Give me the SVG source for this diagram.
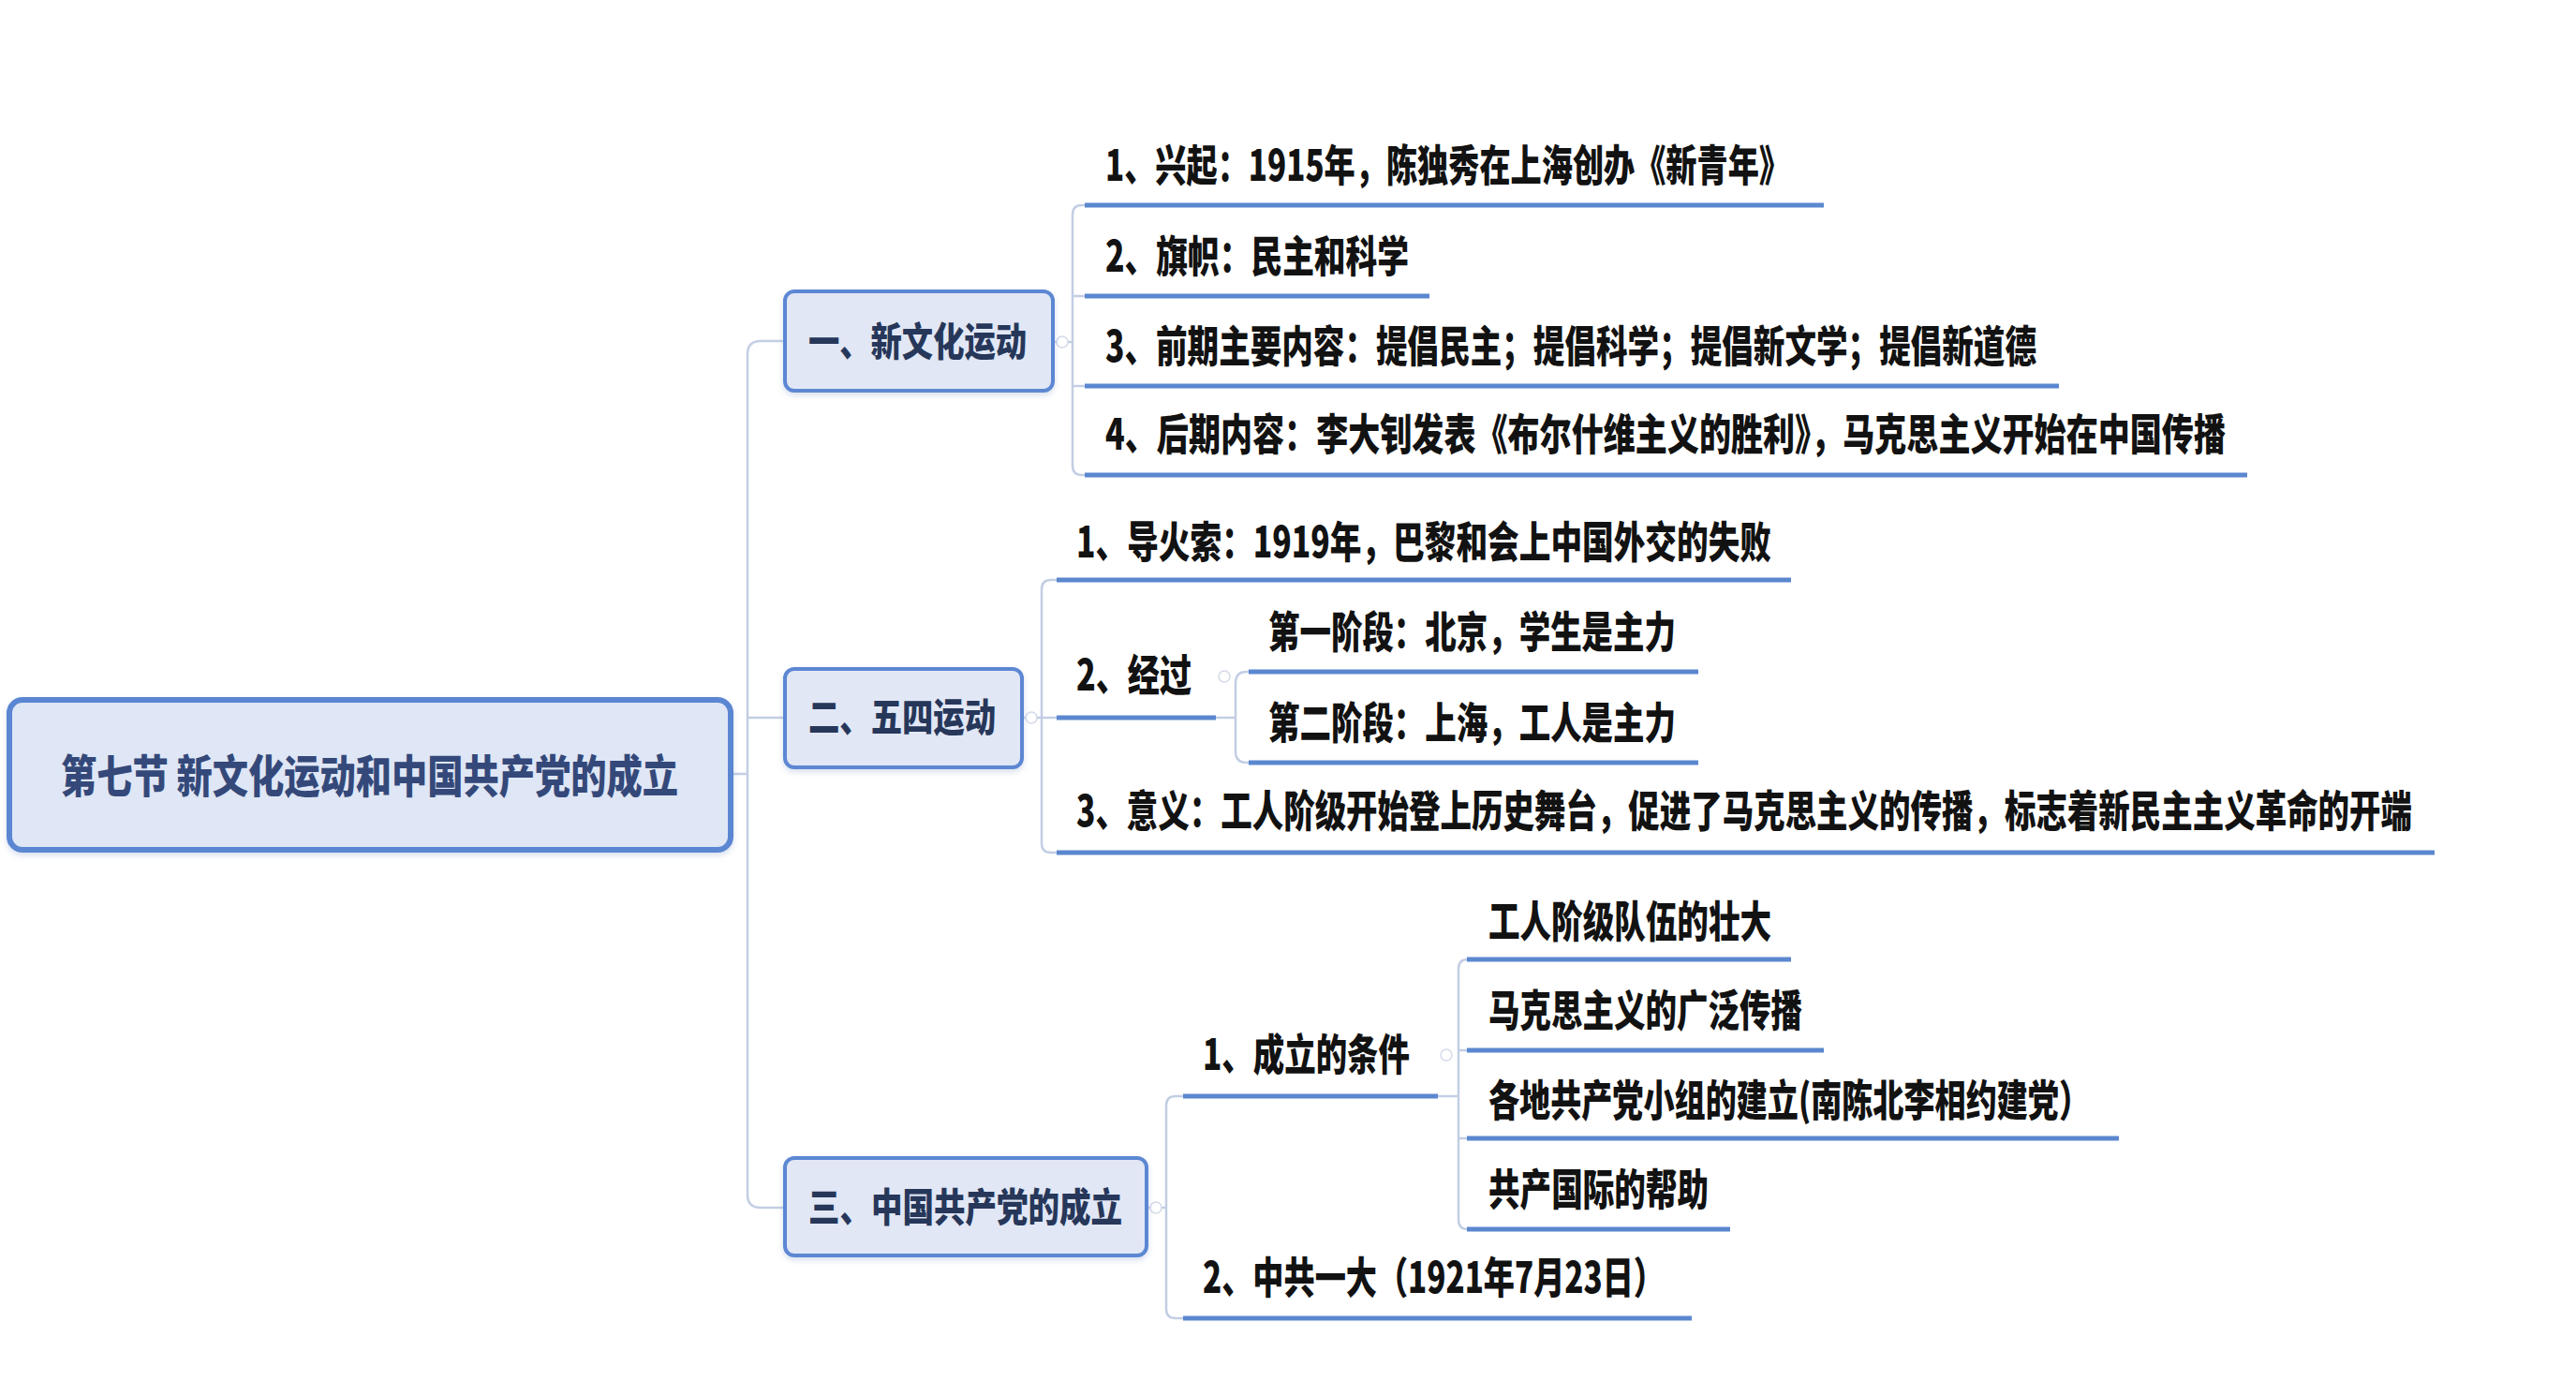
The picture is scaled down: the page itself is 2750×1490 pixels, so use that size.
<svg xmlns="http://www.w3.org/2000/svg" width="2750" height="1490" viewBox="0 0 2750 1490">
  <defs>
    <style>
      .t { font-family: "Noto Sans CJK SC", "Liberation Sans", sans-serif; font-weight: 900; }
      .root { font-size: 48px; fill: #34497a; }
      .topic { font-size: 42px; fill: #27375a; }
      .item { font-size: 46px; fill: #121212; }
      .ul { stroke: #5b87cf; stroke-width: 5; fill: none; }
      .cn { stroke: #c3cee4; stroke-width: 2.5; fill: none; }
      .box { fill: #e1e7f5; stroke: #5b87d3; stroke-width: 4; }
      .rootbox { fill: #dfe6f5; stroke: #5a86d2; stroke-width: 6; }
      .dot { fill: #ffffff; stroke: #d3dae8; stroke-width: 1.5; }
    </style>
    <filter id="sh" x="-5%" y="-10%" width="110%" height="130%">
      <feDropShadow dx="0" dy="3" stdDeviation="3" flood-color="#8aa3cf" flood-opacity="0.35"/>
    </filter>
  </defs>
  <rect width="2750" height="1490" fill="#ffffff"/>

  <!-- connectors -->
  <g id="connectors">
    <!-- root trunk -->
    <path class="cn" d="M780,826 H798"/>
    <path class="cn" d="M837,364 H812 Q798,364 798,378 V1275 Q798,1289 812,1289 H837"/>
    <path class="cn" d="M798,766 H837"/>
    <!-- topic 1 bracket -->
    <path class="cn" d="M1124,365 H1145"/>
    <path class="cn" d="M1160,219 H1155 Q1145,219 1145,229 V497 Q1145,507 1155,507 H1160"/>
    <path class="cn" d="M1145,316 H1160 M1145,412 H1160"/>
    <!-- topic 2 bracket -->
    <path class="cn" d="M1091,766 H1130"/>
    <path class="cn" d="M1130,619 H1122 Q1112,619 1112,629 V900 Q1112,910 1122,910 H1130"/>
    <path class="cn" d="M1298,766 H1319"/>
    <path class="cn" d="M1335,717 H1331 Q1319,717 1319,729 V802 Q1319,814 1331,814 H1335"/>
    <!-- topic 3 bracket -->
    <path class="cn" d="M1224,1289 H1245"/>
    <path class="cn" d="M1265,1170 H1255 Q1245,1170 1245,1180 V1397 Q1245,1407 1255,1407 H1265"/>
    <path class="cn" d="M1535,1170 H1557"/>
    <path class="cn" d="M1568,1024 H1567 Q1557,1024 1557,1034 V1302 Q1557,1312 1567,1312 H1568"/>
    <path class="cn" d="M1557,1121 H1568 M1557,1215 H1568"/>
    <!-- collapse markers -->
    <circle class="dot" cx="1134" cy="365" r="6"/>
    <circle class="dot" cx="1101" cy="766" r="6"/>
    <circle class="dot" cx="1307" cy="722" r="6"/>
    <circle class="dot" cx="1234" cy="1289" r="6"/>
    <circle class="dot" cx="1544" cy="1126" r="6"/>
  </g>

  <!-- root -->
  <g id="root">
    <rect class="rootbox" x="10" y="747" width="770" height="160" rx="14" filter="url(#sh)"/>
    <text class="t root" x="65" y="846" textLength="659" lengthAdjust="spacingAndGlyphs">第七节 新文化运动和中国共产党的成立</text>
  </g>

  <!-- topic 1 -->
  <g id="topic-1">
    <rect class="box" x="838" y="311" width="286" height="106" rx="10" filter="url(#sh)"/>
    <text class="t topic" x="863" y="380" textLength="233" lengthAdjust="spacingAndGlyphs">一、新文化运动</text>
  </g>
  <g id="t1-item-1">
    <text class="t item" x="1180" y="193" textLength="731" lengthAdjust="spacingAndGlyphs">1、兴起：1915年，陈独秀在上海创办《新青年》</text>
    <line class="ul" x1="1158" y1="219" x2="1947" y2="219"/>
  </g>
  <g id="t1-item-2">
    <text class="t item" x="1180" y="290" textLength="324" lengthAdjust="spacingAndGlyphs">2、旗帜：民主和科学</text>
    <line class="ul" x1="1158" y1="316" x2="1526" y2="316"/>
  </g>
  <g id="t1-item-3">
    <text class="t item" x="1180" y="386" textLength="994" lengthAdjust="spacingAndGlyphs">3、前期主要内容：提倡民主；提倡科学；提倡新文学；提倡新道德</text>
    <line class="ul" x1="1158" y1="412" x2="2198" y2="412"/>
  </g>
  <g id="t1-item-4">
    <text class="t item" x="1180" y="480" textLength="1196" lengthAdjust="spacingAndGlyphs">4、后期内容：李大钊发表《布尔什维主义的胜利》，马克思主义开始在中国传播</text>
    <line class="ul" x1="1158" y1="507" x2="2399" y2="507"/>
  </g>

  <!-- topic 2 -->
  <g id="topic-2">
    <rect class="box" x="838" y="714" width="253" height="105" rx="10" filter="url(#sh)"/>
    <text class="t topic" x="863" y="781" textLength="200" lengthAdjust="spacingAndGlyphs">二、五四运动</text>
  </g>
  <g id="t2-item-1">
    <text class="t item" x="1149" y="595" textLength="742" lengthAdjust="spacingAndGlyphs">1、导火索：1919年，巴黎和会上中国外交的失败</text>
    <line class="ul" x1="1128" y1="619" x2="1912" y2="619"/>
  </g>
  <g id="t2-item-2">
    <text class="t item" x="1149" y="737" textLength="123" lengthAdjust="spacingAndGlyphs">2、经过</text>
    <line class="ul" x1="1128" y1="766" x2="1298" y2="766"/>
  </g>
  <g id="t2-item-2-1">
    <text class="t item" x="1354" y="691" textLength="435" lengthAdjust="spacingAndGlyphs">第一阶段：北京，学生是主力</text>
    <line class="ul" x1="1333" y1="717" x2="1813" y2="717"/>
  </g>
  <g id="t2-item-2-2">
    <text class="t item" x="1354" y="788" textLength="435" lengthAdjust="spacingAndGlyphs">第二阶段：上海，工人是主力</text>
    <line class="ul" x1="1333" y1="814" x2="1813" y2="814"/>
  </g>
  <g id="t2-item-3">
    <text class="t item" x="1149" y="882" textLength="1426" lengthAdjust="spacingAndGlyphs">3、意义：工人阶级开始登上历史舞台，促进了马克思主义的传播，标志着新民主主义革命的开端</text>
    <line class="ul" x1="1128" y1="910" x2="2599" y2="910"/>
  </g>

  <!-- topic 3 -->
  <g id="topic-3">
    <rect class="box" x="838" y="1236" width="386" height="104" rx="10" filter="url(#sh)"/>
    <text class="t topic" x="863" y="1304" textLength="335" lengthAdjust="spacingAndGlyphs">三、中国共产党的成立</text>
  </g>
  <g id="t3-item-1">
    <text class="t item" x="1284" y="1142" textLength="221" lengthAdjust="spacingAndGlyphs">1、成立的条件</text>
    <line class="ul" x1="1263" y1="1170" x2="1535" y2="1170"/>
  </g>
  <g id="t3-item-1-1">
    <text class="t item" x="1589" y="1000" textLength="302" lengthAdjust="spacingAndGlyphs">工人阶级队伍的壮大</text>
    <line class="ul" x1="1566" y1="1024" x2="1912" y2="1024"/>
  </g>
  <g id="t3-item-1-2">
    <text class="t item" x="1589" y="1095" textLength="335" lengthAdjust="spacingAndGlyphs">马克思主义的广泛传播</text>
    <line class="ul" x1="1566" y1="1121" x2="1947" y2="1121"/>
  </g>
  <g id="t3-item-1-3">
    <text class="t item" x="1589" y="1191" textLength="642" lengthAdjust="spacingAndGlyphs">各地共产党小组的建立(南陈北李相约建党）</text>
    <line class="ul" x1="1566" y1="1215" x2="2262" y2="1215"/>
  </g>
  <g id="t3-item-1-4">
    <text class="t item" x="1589" y="1286" textLength="235" lengthAdjust="spacingAndGlyphs">共产国际的帮助</text>
    <line class="ul" x1="1566" y1="1312" x2="1847" y2="1312"/>
  </g>
  <g id="t3-item-2">
    <text class="t item" x="1284" y="1380" textLength="493" lengthAdjust="spacingAndGlyphs">2、中共一大（1921年7月23日）</text>
    <line class="ul" x1="1263" y1="1407" x2="1806" y2="1407"/>
  </g>
</svg>
